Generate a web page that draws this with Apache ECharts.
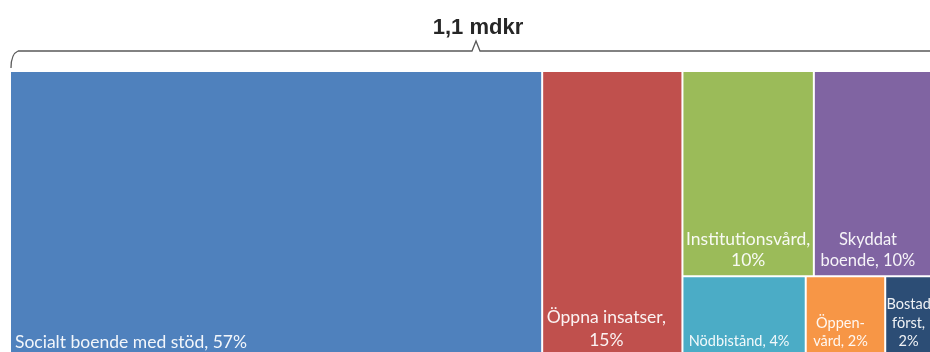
<!DOCTYPE html>
<html>
<head>
<meta charset="utf-8">
<script src="https://cdn.jsdelivr.net/npm/echarts@6/dist/echarts.min.js"></script>
<style>
  html, body { margin: 0; padding: 0; background: #ffffff; }
  #chart { width: 930px; height: 352px; }
</style>
</head>
<body>
<div id="chart"></div>
<script>
// Kostnadsfördelning, andel av totalt 1,1 mdkr (procent)
const categories = [
  'Socialt boende med stöd',
  'Öppna insatser',
  'Institutionsvård',
  'Skyddat\nboende',
  'Nödbistånd',
  'Öppen-\nvård',
  'Bostad\nförst'
];
const shares = [57.1, 15.05, 10.05, 9.8, 3.8, 2.45, 1.75];
// Separator between name and percentage in each cell label
const separators = [', ', ',\n', ',\n', ', ', ', ', ', ', ',\n'];
const colors = ['#4F81BD', '#C0504D', '#9BBB59', '#8064A2', '#4BACC6', '#F79646', '#2C4D75'];
const totalLabel = '1,1 mdkr';

function leaf(i, label) {
  return {
    name: categories[i],
    value: shares[i],
    idx: i,
    itemStyle: { color: colors[i] },
    label: label || {}
  };
}

const sumOf = idxs => idxs.reduce((s, i) => s + shares[i], 0);

// Label styles per cell group
const bigLabel = { position: 'insideBottomLeft', align: 'left', padding: [0, 4, 6, 4] };
const redLabel = { lineHeight: 23, padding: [0, 14, 6, 2] };
const greenLabel = { lineHeight: 21, padding: [0, 2, 4, 2] };
const purpleLabel = { fontSize: 16.5, lineHeight: 21, padding: [0, 22, 4, 2] };
const smallLabel = { fontSize: 14.5, lineHeight: 18.5, padding: [0, 11, 7, 1] };

// Two large cells, then a block with an upper and a lower row
const treeData = [
  leaf(0, bigLabel),
  leaf(1, redLabel),
  {
    name: 'övrigt',
    value: sumOf([2, 3, 4, 5, 6]),
    children: [
      {
        name: 'övre',
        value: sumOf([2, 3]),
        children: [leaf(2, greenLabel), leaf(3, purpleLabel)]
      },
      {
        name: 'nedre',
        value: sumOf([4, 5, 6]),
        children: [leaf(4, smallLabel), leaf(5, smallLabel), leaf(6, smallLabel)]
      }
    ]
  }
];

const chart = echarts.init(document.getElementById('chart'), null, { renderer: 'canvas' });

// Curly bracket spanning the whole map, with the total above it
const bracketStyle = { fill: null, stroke: '#595959', lineWidth: 1.3 };

chart.setOption({
  animation: false,
  graphic: [
    {
      type: 'text',
      x: 478,
      y: 28,
      style: {
        text: totalLabel,
        font: 'bold 22px "Liberation Sans", Arial, sans-serif',
        fill: '#262626',
        align: 'center',
        verticalAlign: 'middle'
      }
    },
    {
      type: 'bezierCurve',
      shape: { x1: 11, y1: 68, x2: 18, y2: 51, cpx1: 11, cpy1: 54 },
      style: bracketStyle
    },
    {
      type: 'polyline',
      shape: { points: [[18, 51], [472, 51], [476, 41], [480, 51], [960, 51]] },
      style: bracketStyle
    }
  ],
  series: [{
    type: 'treemap',
    left: 11,
    top: 72,
    width: 930,
    height: 286,
    sort: false,
    squareRatio: 1,
    roam: false,
    nodeClick: false,
    breadcrumb: { show: false },
    visibleMin: 0,
    itemStyle: { borderWidth: 0, gapWidth: 2, borderColor: '#ffffff' },
    upperLabel: { show: false },
    label: {
      show: true,
      position: 'insideBottom',
      align: 'center',
      verticalAlign: 'bottom',
      overflow: 'none',
      fontFamily: 'Lato, "Open Sans", sans-serif',
      fontSize: 17.5,
      lineHeight: 19,
      padding: [0, 2, 6, 2],
      color: 'rgba(255,255,255,0.93)',
      formatter: p => {
        const i = p.data.idx;
        return categories[i] + separators[i] + Math.round(shares[i]) + '%';
      }
    },
    emphasis: { disabled: true },
    data: treeData
  }]
});
</script>
</body>
</html>
